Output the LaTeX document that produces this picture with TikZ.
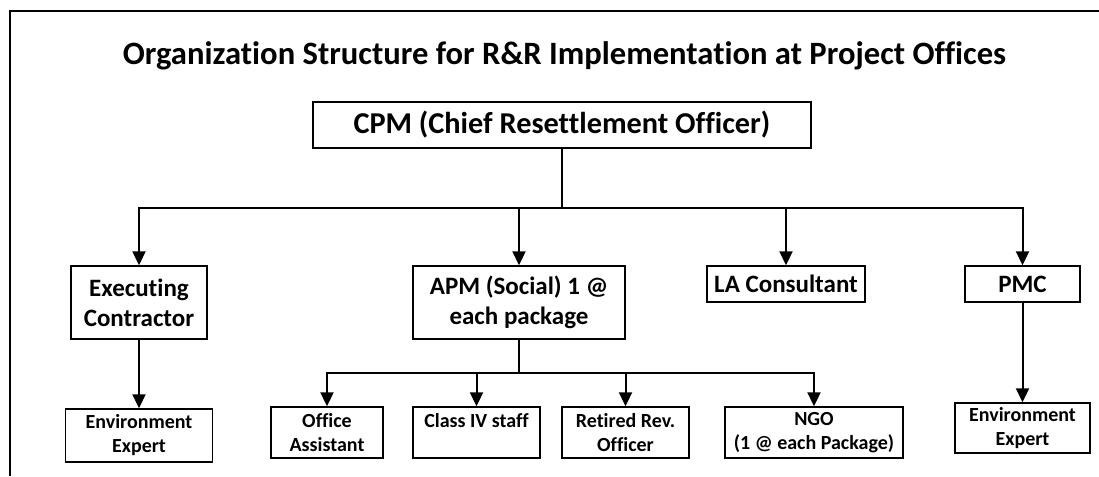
\documentclass[tikz,border=0pt]{standalone}
\usepackage{fontspec}
\setmainfont{Carlito}[Ligatures=NoCommon]
\usetikzlibrary{arrows.meta,positioning}
\tikzstyle{unit} = [draw=black, line width=1.4pt, rectangle, align=center, inner sep=2pt]
\tikzstyle{bigunit} = [unit, font=\bfseries\fontsize{25}{30}\selectfont]
\tikzstyle{smallunit} = [unit, font=\bfseries\fontsize{20}{24}\selectfont, minimum height=51pt]
\tikzstyle{feed} = [line width=2pt, -{Triangle[width=13pt,length=14pt]}]
\tikzstyle{heading} = [font=\bfseries\fontsize{32.6}{36}\selectfont, anchor=base]

\begin{document}
\begin{tikzpicture}[x=1pt,y=-1pt]
	\useasboundingbox (0,0) rectangle (1099,476);
	\draw[line width=2pt] (1099,11) -- (10,11) -- (10,476);
	\node[heading](title) at (564.5,65) {Organization Structure for R\&R Implementation at Project Offices};
	% top level
	\node[unit, font=\bfseries\fontsize{30.3}{34}\selectfont, minimum width=498pt, minimum height=46pt](cpm) at (562,125) {CPM (Chief Resettlement Officer)};
	\coordinate (bus) at (0,208);
	% second level
	\node[bigunit, minimum width=136pt, minimum height=73pt](exec) at (139,302.5) {Executing\\Contractor};
	\node[bigunit, minimum width=212pt, minimum height=73pt](apm) at (519,302.5) {APM (Social) 1 @\\each package};
	\node[bigunit, minimum width=158pt, minimum height=36pt](la) at (786,284) {LA Consultant};
	\node[bigunit, minimum width=115pt, minimum height=36pt](pmc) at (1022.5,284) {PMC};
	\foreach \n in {exec,apm,la,pmc}
		\draw[feed] (cpm.south) -- (cpm.south |- bus) -| (\n.north);
	% third level
	\node[smallunit, minimum width=147pt, minimum height=53pt](envexec) at (139,435.5) {Environment\\Expert};
	\node[smallunit, minimum width=135pt, minimum height=50pt](envpmc) at (1022.5,428) {Environment\\Expert};
	\draw[feed] (exec.south) -- (envexec.north);
	\draw[feed] (pmc.south) -- (envpmc.north);
	\coordinate (subbus) at (0,373);
	\node[smallunit, minimum width=112pt](office) at (327,432.5) {Office\\Assistant};
	\node[smallunit, minimum width=127pt](classiv) at (476.5,432.5) {Class IV staff\\\mbox{}};
	\node[smallunit, minimum width=127pt](retired) at (625.5,432.5) {Retired Rev.\\Officer};
	\node[smallunit, minimum width=178pt](ngo) at (814,432.5) {NGO\\(1 @ each Package)};
	\foreach \n in {office,classiv,retired,ngo}
		\draw[feed] (apm.south) -- (apm.south |- subbus) -| (\n.north);
\end{tikzpicture}
\end{document}
